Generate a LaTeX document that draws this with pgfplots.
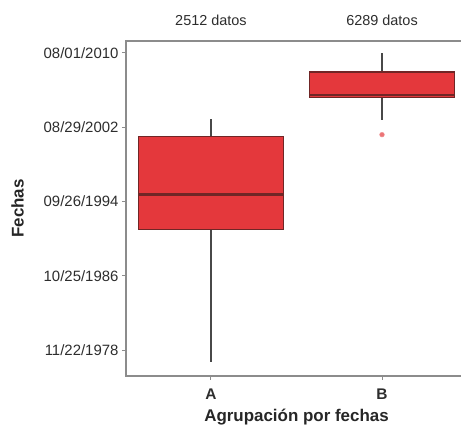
\documentclass[border=0pt]{standalone}
\usepackage{fontspec}
\setmainfont{Liberation Sans}
\usepackage{pgfplots}
\pgfplotsset{compat=1.18}
\usepgfplotslibrary{statistics}

\definecolor{boxred}{RGB}{228,56,60}
\definecolor{boxedge}{RGB}{112,38,38}
\definecolor{whisk}{RGB}{72,72,72}
\definecolor{axisgray}{RGB}{140,140,140}
\definecolor{ticktext}{RGB}{45,45,45}

% y values are decimal years counted from 1970
\begin{document}
\begin{tikzpicture}
\begin{axis}[
  scale only axis,
  width=341bp, height=335bp,
  clip=false,
  xmin=0.503, xmax=2.497,
  ymin=6.13, ymax=41.86,
  axis line style={axisgray, line width=1.2pt},
  tick style={axisgray, line width=1pt},
  tick align=outside,
  major tick length=4bp,
  xtick={1,2}, xticklabels={A,B},
  xtick pos=bottom, ytick pos=left,
  ytick={8.89,16.82,24.74,32.66,40.58},
  yticklabels={11/22/1978,10/25/1986,09/26/1994,08/29/2002,08/01/2010},
  ticklabel style={font=\fontsize{15}{16}\selectfont, text=ticktext},
  xticklabel style={font=\fontsize{15.5}{16}\selectfont\bfseries, text=ticktext, yshift=-5bp},
  xlabel={Agrupación por fechas},
  ylabel={Fechas},
  label style={font=\fontsize{17}{18}\selectfont\bfseries, text=black!85},
  xlabel style={yshift=-3bp},
  ylabel style={yshift=13bp},
  boxplot/draw direction=y,
  boxplot/box extend=0.85,
  boxplot/whisker extend=0,
  boxplot/every box/.style={draw=boxedge, fill=boxred, line width=1.2pt},
  boxplot/every whisker/.style={draw=whisk, line width=1.4pt},
  boxplot/every median/.style={draw=boxedge, line width=2.2pt},
]
\addplot[boxplot prepared={
    draw position=1,
    lower whisker=7.64, lower quartile=21.77,
    median=25.49,
    upper quartile=31.65, upper whisker=33.57},
  ] coordinates {};
\addplot[boxplot prepared={
    draw position=2,
    lower whisker=33.46, lower quartile=35.80,
    median=36.12,
    upper quartile=38.56, upper whisker=40.58},
  mark=*, mark size=2.4pt,
  mark options={draw=boxred!55, fill=boxred!70},
  ] coordinates {(0,31.87)};
\node[font=\fontsize{14.5}{16}\selectfont, text=ticktext, anchor=base]
  at ([yshift=15bp]axis cs:1,41.86) {2512 datos};
\node[font=\fontsize{14.5}{16}\selectfont, text=ticktext, anchor=base]
  at ([yshift=15bp]axis cs:2,41.86) {6289 datos};
\coordinate (sw) at (rel axis cs:0,0);
\end{axis}
\pgfresetboundingbox
\useasboundingbox (sw) ++(-126bp,-53bp) rectangle ++(461bp,429bp);
\end{tikzpicture}
\end{document}
